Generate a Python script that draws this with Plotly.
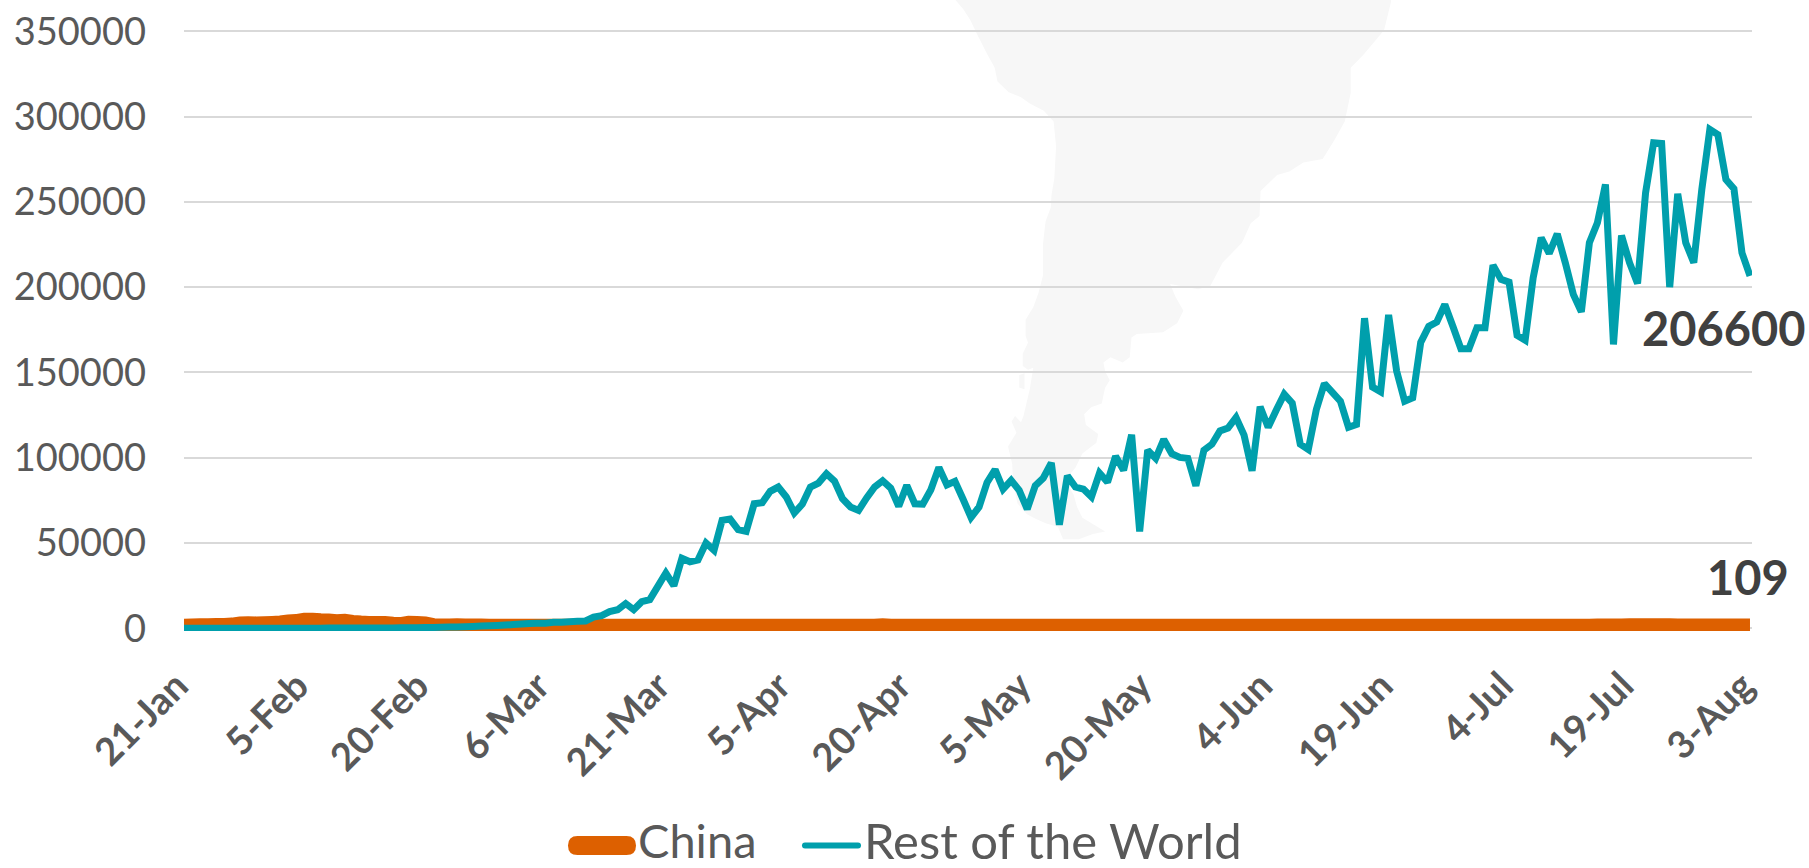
import pandas as pd
import plotly.graph_objects as go

# Daily new cases, 21 Jan to 3 Aug 2020
START_DATE = "2020-01-21"
china = [100, 150, 250, 300, 400, 500, 700, 1300, 1500, 1400, 1500, 1700, 2000, 2500, 2800, 3600,
         3500, 3200, 3100, 2700, 2900, 2300, 1900, 1700, 1700, 1700, 1200, 1000, 1800, 1700, 1400,
         400, 200, 200, 300, 200, 150, 120, 100, 90, 80, 60, 50, 40, 40, 30, 30, 30, 30, 30,
         30, 30, 30, 30, 40, 40, 40, 40, 40, 50, 50, 50, 60, 60, 60, 60, 60, 100, 60, 50,
         50, 50, 40, 40, 40, 40, 30, 30, 30, 30, 30, 30, 30, 30, 30, 30, 30, 350, 30, 30,
         30, 20, 20, 20, 20, 20, 20, 20, 20, 20, 20, 20, 20, 20, 20, 20, 20, 20, 20, 20,
         20, 20, 20, 20, 20, 20, 20, 20, 20, 20, 20, 20, 20, 20, 20, 20, 20, 20, 20, 20,
         20, 20, 20, 20, 20, 20, 20, 20, 20, 20, 20, 20, 20, 20, 20, 20, 20, 20, 20, 20,
         20, 20, 20, 20, 20, 20, 20, 20, 20, 20, 20, 20, 20, 20, 20, 20, 20, 30, 30, 30,
         30, 40, 50, 60, 80, 100, 120, 150, 200, 200, 250, 250, 300, 300, 300, 250, 200, 150, 127, 109]
rest_of_world = [10, 10, 15, 20, 25, 30, 40, 50, 50, 60, 70, 70, 80, 90, 90, 100, 100, 100, 110, 110,
                 120, 120, 130, 140, 150, 180, 200, 250, 300, 350, 400, 500, 600, 700, 800, 950, 1100, 1300, 1500, 1700,
                 1900, 2200, 2500, 2800, 2900, 3000,
                 3500, 3500, 3900, 4100, 4300, 6600, 7400, 9800, 10900, 14500, 10900, 15600, 16800, 24600,
                 32400, 25000, 41000, 39000, 40000, 50000, 45700, 63300, 64000, 57800, 56800, 73000, 73600,
                 80300, 82800, 77000, 67600, 72800, 82800, 85100, 90600, 86300, 76000, 71100, 69100, 76400,
                 82800, 86500, 82200, 71500, 83800, 73000, 72800, 81200, 94300, 84000, 86100, 75800, 65000,
                 71100, 85500, 93000, 81600, 86700, 80900, 69900, 83600, 88100, 96900, 60700, 89400, 82800,
                 81600, 77000, 91000, 85700, 100800, 92600, 113500, 56800, 104400, 99600, 110700, 102300,
                 100200, 99600, 83500, 104400, 107900, 115700, 117400, 123600, 113200, 92300, 129900, 117800,
                 127800, 137200, 132000, 107900, 104800, 128200, 143500, 138300, 133100, 117800, 119500,
                 181800, 141400, 138700, 183700, 150800, 133100, 135100, 167600, 177000, 179500, 189800,
                 177100, 163900, 163900, 176200, 176200, 212900, 204500, 202900, 171700, 168900, 205500,
                 228900, 219700, 231200, 214300, 195700, 185500, 226000, 237700, 260200, 166400, 230300,
                 214300, 202100, 255300, 284600, 284200, 200000, 254700, 226000, 214300, 257200, 292400,
                 289400, 263100, 257600, 220100, 206600]
y_ticks = [0, 50000, 100000, 150000, 200000, 250000, 300000, 350000]
x_tick_dates = ["2020-01-21", "2020-02-05", "2020-02-20", "2020-03-06", "2020-03-21", "2020-04-05", "2020-04-20",
                "2020-05-05", "2020-05-20", "2020-06-04", "2020-06-19", "2020-07-04", "2020-07-19", "2020-08-03"]
x_tick_labels = ["21-Jan", "5-Feb", "20-Feb", "6-Mar", "21-Mar", "5-Apr", "20-Apr",
                 "5-May", "20-May", "4-Jun", "19-Jun", "4-Jul", "19-Jul", "3-Aug"]

WIDTH, HEIGHT = 1809, 868
LEFT, RIGHT, TOP, BOTTOM = 184, 1752, 10, 631
ZERO_Y, PX_PER_UNIT = 628.3, 85.3 / 50000
GREY = "#595959"
FONT = "Lato"

dates = pd.date_range(START_DATE, periods=len(rest_of_world), freq="D")
china = (china + [china[-1]] * len(rest_of_world))[:len(rest_of_world)]


def px(x):
    return (x - LEFT) / (RIGHT - LEFT)


def py(y):
    return (BOTTOM - y) / (BOTTOM - TOP)


def polygon(points):
    return "M " + " L ".join(f"{px(x):.5f},{py(y):.5f}" for x, y in points) + " Z"


def pill(x0, x1, yc, h):
    r = h / 2
    return (f"M {px(x0 + r):.5f},{py(yc - r):.5f} L {px(x1 - r):.5f},{py(yc - r):.5f} "
            f"Q {px(x1):.5f},{py(yc - r):.5f} {px(x1):.5f},{py(yc):.5f} "
            f"Q {px(x1):.5f},{py(yc + r):.5f} {px(x1 - r):.5f},{py(yc + r):.5f} "
            f"L {px(x0 + r):.5f},{py(yc + r):.5f} "
            f"Q {px(x0):.5f},{py(yc + r):.5f} {px(x0):.5f},{py(yc):.5f} "
            f"Q {px(x0):.5f},{py(yc - r):.5f} {px(x0 + r):.5f},{py(yc - r):.5f} Z")


# Backdrop silhouette of South America, traced in page pixels
map_outline = [(158, 0), (180, 25), (200, 55), (222, 100), (245, 145), (270, 190), (278, 228), (310, 258), (345, 272),
               (370, 290), (410, 310), (438, 340), (445, 410), (440, 500), (432, 545), (430, 580), (415, 620),
               (408, 680), (408, 770), (395, 820), (380, 860), (358, 895), (358, 940), (365, 960), (350, 990),
               (350, 1025), (365, 1035), (380, 1030), (370, 1090), (352, 1165), (345, 1182), (328, 1165), (318, 1180),
               (332, 1212), (308, 1250), (320, 1300), (322, 1350), (335, 1410), (362, 1440), (385, 1452), (415, 1465),
               (450, 1475), (465, 1510), (510, 1510), (550, 1495), (585, 1488), (520, 1450), (505, 1420), (495, 1385),
               (470, 1345), (500, 1310), (520, 1270), (560, 1240), (565, 1215), (530, 1190), (525, 1160), (545, 1140),
               (575, 1130), (585, 1085), (598, 1065), (585, 1040), (580, 1015), (600, 1000), (635, 1015), (655, 1000),
               (660, 945), (675, 935), (750, 930), (790, 905), (808, 870), (785, 830), (770, 795), (850, 810),
               (885, 800), (920, 735), (975, 680), (1000, 625), (1025, 605), (1028, 535), (1075, 490), (1110, 480),
               (1150, 455), (1205, 445), (1240, 390), (1268, 340), (1285, 260), (1285, 190), (1320, 155), (1380, 85),
               (1400, 5), (1400, 0)]
map_island = [(340, 1050), (355, 1045), (355, 1090), (340, 1085)]


def map_points(points):
    return [(900 + x / 2.851, y / 2.8) for x, y in points]


fig = go.Figure()
fig.add_trace(go.Scatter(x=dates, y=china, mode="lines", name="China",
                         line=dict(color="#DD6000", width=19, simplify=False), showlegend=False))
fig.add_trace(go.Scatter(x=dates, y=rest_of_world, mode="lines", name="Rest of the World",
                         line=dict(color="#009FAC", width=7, simplify=False), showlegend=False))

shapes = [
    dict(type="path", xref="paper", yref="paper", path=polygon(map_points(map_outline)),
         fillcolor="#F7F7F7", line=dict(width=0), layer="below"),
    dict(type="path", xref="paper", yref="paper", path=polygon(map_points(map_island)),
         fillcolor="#F7F7F7", line=dict(width=0), layer="below"),
    dict(type="path", xref="paper", yref="paper", path=pill(568, 636, 845.5, 19),
         fillcolor="#DD6000", line=dict(width=0)),
    dict(type="path", xref="paper", yref="paper", path=pill(802, 861, 845.5, 6),
         fillcolor="#009FAC", line=dict(width=0)),
]

annotations = [
    dict(x=dates[-1], y=rest_of_world[-1], xref="x", yref="y", text=f"<b>{rest_of_world[-1]}</b>", showarrow=False,
         xshift=-26, yshift=-52, font=dict(family=FONT, size=47, color="#404040")),
    dict(x=dates[-1], y=china[-1], xref="x", yref="y", text=f"<b>{china[-1]}</b>", showarrow=False,
         xshift=-2, yshift=51, font=dict(family=FONT, size=47, color="#404040")),
    dict(x=px(636), y=py(840), xref="paper", yref="paper", xanchor="left", yanchor="middle",
         text="China", showarrow=False, font=dict(family=FONT, size=47, color=GREY)),
    dict(x=px(862), y=py(840), xref="paper", yref="paper", xanchor="left", yanchor="middle",
         text="Rest of the World", showarrow=False, font=dict(family=FONT, size=49, color=GREY)),
]

fig.update_layout(
    width=WIDTH, height=HEIGHT, autosize=False,
    paper_bgcolor="white", plot_bgcolor="rgba(0,0,0,0)",
    margin=dict(l=LEFT, r=WIDTH - RIGHT, t=TOP, b=HEIGHT - BOTTOM, pad=0),
    showlegend=False, shapes=shapes, annotations=annotations,
    xaxis=dict(type="date", range=[dates[0], dates[-1] + pd.Timedelta(hours=6)], automargin=False,
               tickmode="array", tickvals=x_tick_dates, ticktext=x_tick_labels,
               tickangle=-45, showgrid=False, zeroline=False, showline=False, ticks="",
               ticklabelstandoff=24, ticklabelshift=-7,
               tickfont=dict(family=FONT, size=38, color=GREY, weight="bold")),
    yaxis=dict(range=[(ZERO_Y - BOTTOM) / PX_PER_UNIT, (ZERO_Y - TOP) / PX_PER_UNIT], automargin=False,
               tickmode="array", tickvals=y_ticks, ticktext=[str(v) for v in y_ticks],
               showgrid=True, gridcolor="#D9D9D9", gridwidth=2, zeroline=False, showline=False, ticks="",
               ticklabelstandoff=37,
               tickfont=dict(family=FONT, size=38, color=GREY)),
)

fig.write_html("out.html")
